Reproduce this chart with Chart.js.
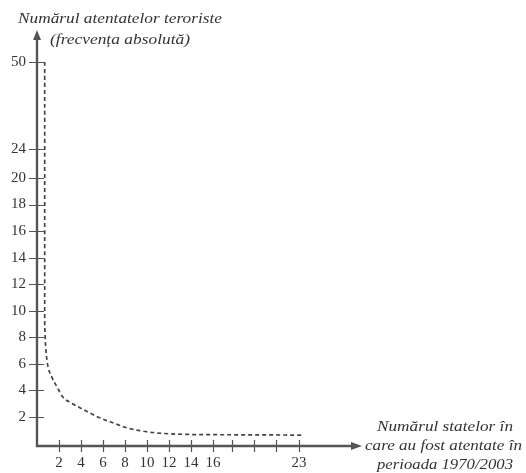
<!DOCTYPE html>
<html>
<head>
<meta charset="utf-8">
<script src="https://cdn.jsdelivr.net/npm/chart.js@4/dist/chart.umd.min.js"></script>
<style>
  html, body { margin: 0; padding: 0; background: #fff; }
  #c { display: block; filter: blur(0.35px); }
</style>
</head>
<body>
<canvas id="c" width="526" height="473"></canvas>
<script>
// ---- data ----
const statesCount = [0.7, 0.7, 0.75, 0.9, 1.35, 1.8, 2.35, 3.0, 3.9, 4.8, 5.7, 6.9, 8.2, 9.4, 10.9, 13.6, 16, 20, 23.4];
const attacksFreq = [50, 8.8, 7.8, 6.3, 5.0, 4.3, 3.5, 3.1, 2.7, 2.3, 1.95, 1.6, 1.25, 1.05, 0.9, 0.8, 0.78, 0.77, 0.75];
const yTickValues = [2, 4, 6, 8, 10, 12, 14, 16, 18, 20, 24, 50];
const xTickValues = [2, 4, 6, 8, 10, 12, 14, 16, 18, 20, 22, 23];
const xTickLabels = ['2', '4', '6', '8', '10', '12', '14', '16', '', '', '', '23'];
const yTitleLines = ['Numărul atentatelor teroriste', '(frecvența absolută)'];
const xTitleLines = ['Numărul statelor în', 'care au fost atentate în', 'perioada 1970/2003'];

// ---- broken (piecewise linear) axes, as drawn by hand in the original ----
const AXIS_BREAKS = {
  x: { values: [0, 16, 18, 20, 22, 23, 30], fracs: [0, 176/325, 195/325, 217/325, 239/325, 262/325, 1] },
  y: { values: [0, 2, 20, 24, 50, 55],      fracs: [0, 29/416, 268/416, 297/416, 384/416, 1] }
};

function interp(v, xs, ys) {
  let i = 0;
  while (i < xs.length - 2 && v > xs[i + 1]) i++;
  return ys[i] + (v - xs[i]) * (ys[i + 1] - ys[i]) / (xs[i + 1] - xs[i]);
}

class PiecewiseScale extends Chart.LinearScale {
  getPixelForValue(value) {
    if (value === null || value === undefined || isNaN(value)) return NaN;
    const b = AXIS_BREAKS[this.id];
    return this.getPixelForDecimal(interp(value, b.values, b.fracs));
  }
  getValueForPixel(pixel) {
    const b = AXIS_BREAKS[this.id];
    return interp(this.getDecimalForPixel(pixel), b.fracs, b.values);
  }
}
PiecewiseScale.id = 'piecewise';
PiecewiseScale.defaults = Chart.LinearScale.defaults;
Chart.register(PiecewiseScale);

const AXIS_COLOR = '#555';
const TEXT_COLOR = '#333';
const SERIF = '"Liberation Serif", "Times New Roman", Times, serif';

function fittedText(ctx, text, x1, x2, cy, font) {
  ctx.save();
  ctx.font = font;
  const w = ctx.measureText(text).width;
  const sx = (x2 - x1) / w;
  ctx.translate(x1, cy);
  ctx.scale(sx, 1);
  ctx.textAlign = 'left';
  ctx.textBaseline = 'middle';
  ctx.fillStyle = TEXT_COLOR;
  ctx.fillText(text, 0, 0);
  ctx.restore();
}

const axesPlugin = {
  id: 'handAxes',
  afterDraw(chart) {
    const ctx = chart.ctx;
    const xs = chart.scales.x, ys = chart.scales.y;
    const x0 = xs.getPixelForValue(0);
    const y0 = ys.getPixelForValue(0);
    const top = chart.chartArea.top;
    const right = chart.chartArea.right;
    ctx.save();
    ctx.strokeStyle = AXIS_COLOR;
    ctx.fillStyle = AXIS_COLOR;
    ctx.lineWidth = 2.4;
    ctx.beginPath();
    ctx.moveTo(x0, y0 + 1);
    ctx.lineTo(x0, top + 6);
    ctx.moveTo(x0 - 1, y0);
    ctx.lineTo(right - 8, y0);
    ctx.stroke();
    ctx.beginPath();
    ctx.moveTo(x0, top);
    ctx.lineTo(x0 - 4, top + 10);
    ctx.lineTo(x0 + 4, top + 10);
    ctx.closePath();
    ctx.fill();
    ctx.beginPath();
    ctx.moveTo(right, y0);
    ctx.lineTo(right - 11, y0 - 4);
    ctx.lineTo(right - 11, y0 + 4);
    ctx.closePath();
    ctx.fill();
    ctx.lineWidth = 1.2;
    ctx.beginPath();
    ys.ticks.forEach(t => {
      const py = Math.round(ys.getPixelForValue(t.value)) + 0.5;
      ctx.moveTo(x0 - 8, py);
      ctx.lineTo(x0 + 7, py);
    });
    xs.ticks.forEach(t => {
      const px = Math.round(xs.getPixelForValue(t.value)) + 0.5;
      ctx.moveTo(px, y0 - 6);
      ctx.lineTo(px, y0 + 6);
    });
    ctx.stroke();
    ctx.restore();
    const tf = 'italic 14px ' + SERIF;
    fittedText(ctx, yTitleLines[0], 18, 222, 19, tf);
    fittedText(ctx, yTitleLines[1], 50, 190, 40, tf);
    fittedText(ctx, xTitleLines[0], 377, 513, 427, tf);
    fittedText(ctx, xTitleLines[1], 365, 522, 446, tf);
    fittedText(ctx, xTitleLines[2], 377, 513, 465, tf);
  }
};

new Chart(document.getElementById('c'), {
  type: 'scatter',
  data: {
    datasets: [{
      data: statesCount.map((x, i) => ({ x: x, y: attacksFreq[i] })),
      showLine: true,
      borderColor: '#444',
      borderWidth: 1.7,
      borderDash: [4, 3],
      pointRadius: 0,
      cubicInterpolationMode: 'monotone',
      fill: false,
      clip: false
    }]
  },
  options: {
    responsive: false,
    devicePixelRatio: 1,
    animation: false,
    layout: { padding: { top: 30, right: 164, left: 0, bottom: 0 } },
    plugins: { legend: { display: false }, tooltip: { enabled: false } },
    scales: {
      x: {
        type: 'piecewise',
        min: 0, max: 30,
        afterBuildTicks: s => { s.ticks = xTickValues.map(v => ({ value: v })); },
        afterFit: s => { s.height = 27; },
        grid: { display: false, drawTicks: false },
        border: { display: false },
        ticks: {
          autoSkip: false, maxRotation: 0, padding: 8,
          color: TEXT_COLOR,
          font: { family: SERIF, size: 15 },
          callback: (v, i) => xTickLabels[i]
        }
      },
      y: {
        type: 'piecewise',
        min: 0, max: 55,
        afterBuildTicks: s => { s.ticks = yTickValues.map(v => ({ value: v })); },
        afterFit: s => { s.width = 37; },
        grid: { display: false, drawTicks: false },
        border: { display: false },
        ticks: {
          autoSkip: false, padding: 11,
          color: TEXT_COLOR,
          font: { family: SERIF, size: 15 },
          callback: (v, i) => String(yTickValues[i])
        }
      }
    }
  },
  plugins: [axesPlugin]
});
</script>
</body>
</html>
